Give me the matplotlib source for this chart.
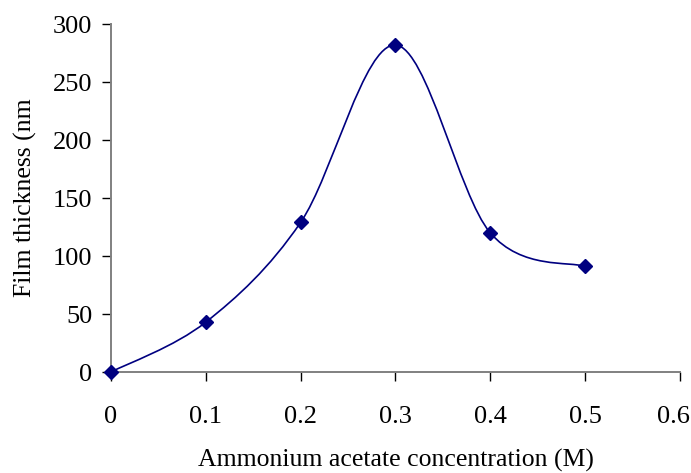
import matplotlib.pyplot as plt
import numpy as np
from matplotlib.path import Path
from matplotlib.patches import PathPatch
from matplotlib.transforms import ScaledTranslation

plt.rcParams['font.family'] = ['Liberation Serif', 'DejaVu Serif']

conc = [0.0, 0.1, 0.2, 0.3, 0.4, 0.5]
thickness = [0, 43, 129, 282, 120, 91]

x_ticks = [0, 0.1, 0.2, 0.3, 0.4, 0.5, 0.6]
x_labels = ['0', '0.1', '0.2', '0.3', '0.4', '0.5', '0.6']
y_ticks = [0, 50, 100, 150, 200, 250, 300]


def smooth_path(xs, ys):
    # bezier path through the points, like a spreadsheet "smoothed line"
    p = np.column_stack([xs, ys]).astype(float)
    ext = np.vstack([p[0], p, p[-1]])
    verts = [p[0]]
    codes = [Path.MOVETO]
    for i in range(len(p) - 1):
        p0, p1, p2, p3 = ext[i], ext[i + 1], ext[i + 2], ext[i + 3]
        verts += [p1 + (p2 - p0) / 6, p2 - (p3 - p1) / 6, p2]
        codes += [Path.CURVE4] * 3
    return Path(verts, codes)


fig = plt.figure(figsize=(6.91, 4.73), dpi=100)
ax = fig.add_axes([0.1606, 0.2135, 0.8234, 0.7355])

color = '#000080'
ax.add_patch(PathPatch(smooth_path(conc, thickness), fill=False,
                       edgecolor=color, linewidth=1.2))
ax.plot(conc, thickness, linestyle='none', marker='D', markersize=7,
        color=color, clip_on=False, zorder=5)

ax.set_xlim(0, 0.6)
ax.set_ylim(0, 300)
ax.set_xticks(x_ticks)
ax.set_xticklabels(x_labels)
ax.set_yticks(y_ticks)

for side in ['top', 'right']:
    ax.spines[side].set_visible(False)
for side in ['left', 'bottom']:
    ax.spines[side].set_color('#808080')
    ax.spines[side].set_linewidth(1.4)

ax.tick_params(axis='both', direction='out', length=6.5, width=1,
               color='black', labelsize=19)
ax.tick_params(axis='x', pad=18)
ax.tick_params(axis='y', pad=7)

# keep the last x label inside the figure
last = ax.get_xticklabels()[-1]
last.set_transform(last.get_transform() + ScaledTranslation(-7 / 100, 0, fig.dpi_scale_trans))

ax.set_xlabel('Ammonium acetate concentration (M)', fontsize=18.5, labelpad=15)
ax.set_ylabel('Film thickness (nm', fontsize=18.5, labelpad=11)

fig.savefig('out.png', dpi=100)
